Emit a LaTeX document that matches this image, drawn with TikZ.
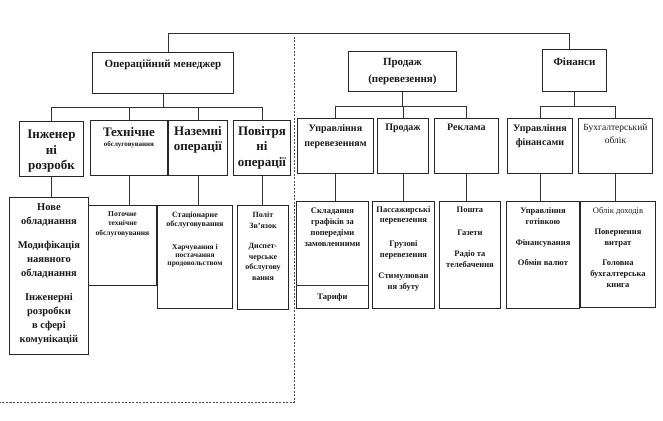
\documentclass[tikz,border=0pt]{standalone}
\usepackage{fontspec}
\setmainfont{Liberation Serif}
\usepackage{tikz}
\usetikzlibrary{positioning}

\begin{document}
\begin{tikzpicture}[x = 1pt, y = -1pt]
	\tikzstyle{box} = [rectangle, draw = black!85, line width = 0.9pt, anchor = north west, inner sep = 0pt]
	\tikzstyle{txt} = [align = center, inner sep = 0pt, text = black!90]
	\tikzstyle{link} = [draw = black!80, line width = 0.7pt]
	\tikzstyle{sep} = [draw = black!70, line width = 0.8pt, dash pattern = on 2pt off 1.5pt]
	\tikzstyle{fhead} = [font = \bfseries\fontsize{11}{14}\selectfont]
	\tikzstyle{fbig} = [font = \bfseries\fontsize{13}{15.5}\selectfont]
	\tikzstyle{fmid} = [font = \bfseries\fontsize{10}{15}\selectfont]
	\tikzstyle{flist} = [font = \bfseries\fontsize{10.5}{14}\selectfont]
	\tikzstyle{fsmall} = [font = \bfseries\fontsize{8.5}{11}\selectfont]
	\tikzstyle{ftiny} = [font = \bfseries\fontsize{7.5}{9.5}\selectfont]
\useasboundingbox (0,0) rectangle (663,420);
% top level
\node[box, minimum width = 141pt, minimum height = 41pt] (1) at (92,52) {};
\node[box, minimum width = 108pt, minimum height = 40pt] (2) at (348,51) {};
\node[box, minimum width = 64pt, minimum height = 42pt] (3) at (542,49) {};
\node[txt, fhead, below = 8pt of 1.north] (t1) {Операційний менеджер};
\node[txt, fhead, below = 7pt of 2.north] (t2) {Продаж\\[3pt](перевезення)};
\node[txt, fhead, below = 9pt of 3.north] (t3) {Фінанси};
% second level
\node[box, minimum width = 64pt, minimum height = 55pt] (11) at (19,121) {};
\node[box, minimum width = 77pt, minimum height = 55pt] (12) at (90,120) {};
\node[box, minimum width = 59pt, minimum height = 55pt] (13) at (168,120) {};
\node[box, minimum width = 57pt, minimum height = 55pt] (14) at (233,120) {};
\node[box, minimum width = 76pt, minimum height = 55pt] (21) at (297,118) {};
\node[box, minimum width = 51pt, minimum height = 55pt] (22) at (377,118) {};
\node[box, minimum width = 64pt, minimum height = 55pt] (23) at (434,118) {};
\node[box, minimum width = 65pt, minimum height = 55pt] (31) at (507,118) {};
\node[box, minimum width = 74pt, minimum height = 55pt] (32) at (578,118) {};
\node[txt, fbig, below = 9pt of 11.north] (t11) {Інженер\\ні\\розробк};
\node[txt, fbig, below = 7pt of 12.north] (t12) {Технічне\\[-5pt]{\fontsize{7}{8}\selectfont обслуговування}};
\node[txt, fbig, below = 6pt of 13.north] (t13) {Наземні\\операції};
\node[txt, fbig, below = 6pt of 14.north] (t14) {Повітря\\ні\\операції};
\node[txt, fmid, below = 6pt of 21.north] (t21) {Управління\\перевезенням};
\node[txt, fmid, below = 6pt of 22.north] (t22) {Продаж};
\node[txt, fmid, below = 6pt of 23.north] (t23) {Реклама};
\node[txt, fmid, below = 6pt of 31.north] (t31) {Управління\\[-1pt]фінансами};
\node[txt, font = \fontsize{9.5}{12.5}\selectfont, below = 6pt of 32.north] (t32) {Бухгалтерський\\облік};
% third level
\node[box, minimum width = 79pt, minimum height = 157pt] (111) at (9,197) {};
\node[box, minimum width = 68pt, minimum height = 80pt] (121) at (88,205) {};
\node[box, minimum width = 75pt, minimum height = 103pt] (131) at (157,205) {};
\node[box, minimum width = 51pt, minimum height = 104pt] (141) at (237,205) {};
\node[box, minimum width = 72pt, minimum height = 107pt] (211) at (296,201) {};
\node[box, minimum width = 62pt, minimum height = 107pt] (221) at (372,201) {};
\node[box, minimum width = 61pt, minimum height = 107pt] (231) at (439,201) {};
\node[box, minimum width = 73pt, minimum height = 107pt] (311) at (506,201) {};
\node[box, minimum width = 75pt, minimum height = 106pt] (321) at (580,201) {};
	\path[draw][link] ([yshift = 24pt]211.south west) -- ([yshift = 24pt]211.south east);
\node[txt, flist, below = 6pt of 111.north] (t111) {Нове\\обладнання\\[10pt]Модифікація\\наявного\\обладнання\\[10pt]Інженерні\\розробки\\в сфері\\комунікацій};
\node[txt, ftiny, below = 6pt of 121.north] (t121) {Поточне\\технічне\\обслуговування};
\node[txt, font = \bfseries\fontsize{8}{9}\selectfont, below = 7pt of 131.north] (t131) {Стаціонарне\\обслуговування\\[14pt]{\fontsize{7.5}{8}\selectfont Харчування і}\\[-1pt]{\fontsize{7.5}{8}\selectfont постачання}\\[-1pt]{\fontsize{7.5}{8}\selectfont продовольством}};
\node[txt, font = \bfseries\fontsize{8}{10.5}\selectfont, below = 7pt of 141.north] (t141) {Політ\\Зв'язок\\[10pt]Диспет-\\черське\\обслугову\\вання};
\node[txt, fsmall, below = 7pt of 211.north] (t211) {Складання\\графіків за\\попередіми\\замовленними};
\node[txt, fsmall, above = 7pt of 211.south] (t212) {Тарифи};
\node[txt, fsmall, below = 5pt of 221.north] (t221) {Пассажирські\\[-1pt]перевезення\\[13pt]Грузові\\перевезення\\[10pt]Стимулюван\\ня збуту};
\node[txt, fsmall, below = 6pt of 231.north] (t231) {Пошта\\[12pt]Газети\\[10pt]Радіо та\\телебачення};
\node[txt, fsmall, below = 6pt of 311.north] (t311) {Управління\\готівкою\\[10pt]Фінансування\\[9pt]Обмін валют};
\node[txt, fsmall, below = 6pt of 321.north] (t321) {{\mdseries Облік доходів}\\[10pt]Повернення\\витрат\\[9pt]Головна\\бухгалтерська\\книга};
% connectors
	\path[draw][link] ([xshift = 5pt]1.north) -- ++(0,-19) -| ([xshift = -5pt]3.north);
	\path[draw][link] (1.south) -- ++(0,13) -| (11.north);
	\path[draw][link] (1.south) -- ++(0,13) -| (12.north);
	\path[draw][link] (1.south) -- ++(0,13) -| (13.north);
	\path[draw][link] (1.south) -- ++(0,13) -| (14.north);
	\path[draw][link] (2.south) -- ++(0,14) -| (21.north);
	\path[draw][link] (2.south) -- ++(0,14) -| (22.north);
	\path[draw][link] (2.south) -- ++(0,14) -| (23.north);
	\path[draw][link] (3.south) -- ++(0,14) -| (31.north);
	\path[draw][link] (3.south) -- ++(0,14) -| (32.north);
	\path[draw][link] (11.south) -- (11.south |- 111.north);
	\path[draw][link] (12.south) -- (12.south |- 121.north);
	\path[draw][link] (13.south) -- (13.south |- 131.north);
	\path[draw][link] (14.south) -- (14.south |- 141.north);
	\path[draw][link] (21.south) -- (21.south |- 211.north);
	\path[draw][link] (22.south) -- (22.south |- 221.north);
	\path[draw][link] (23.south) -- (23.south |- 231.north);
	\path[draw][link] (31.south) -- (31.south |- 311.north);
	\path[draw][link] (32.south) -- (32.south |- 321.north);
% dotted border
\coordinate (s1) at (294,37);
\coordinate (s2) at (294,402);
\coordinate (s3) at (0,402);
	\path[draw][sep] (s1) -- (s2) -- (s3);
	\end{tikzpicture}
\end{document}
